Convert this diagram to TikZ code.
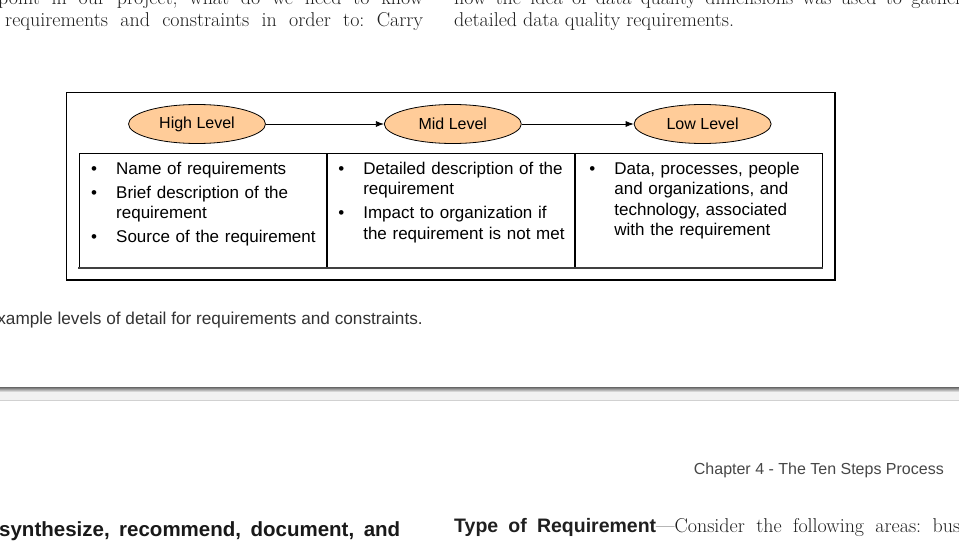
\documentclass[tikz,border=0pt]{standalone}
\usepackage{fontspec}
\usepackage{xcolor}
\usepackage{tikz}
\usetikzlibrary{shapes.geometric, arrows.meta, positioning}
\newfontfamily\arialfont{Liberation Sans}
\definecolor{levelfill}{RGB}{255,204,153}
\newcommand{\itm}[1]{\hangindent=25pt\hangafter=1\noindent\makebox[25pt][l]{\textbullet}#1\par\vspace{3.5pt}}
\frenchspacing

\begin{document}
\begin{tikzpicture}[
    x=1pt, y=-1pt,
    >=Latex,
    level/.style={ellipse, draw, fill=levelfill, line width=0.8pt, minimum width=137pt, minimum height=39pt, inner sep=0pt, font=\arialfont\fontsize{16}{19}\selectfont},
    cell/.style={rectangle, draw, line width=1.1pt, minimum width=247pt, minimum height=114.5pt, anchor=north west, inner sep=0pt},
    items/.style={text width=229pt, align=left, inner sep=0pt, anchor=base west, font=\arialfont\fontsize{17}{20.5}\selectfont},
    body/.style={inner sep=0pt, anchor=base west, font=\fontsize{20}{22}\selectfont, text=black!88},
    sans/.style={inner sep=0pt, font=\arialfont\fontsize{17.2}{20}\selectfont, text=black!80},
]
    \path[use as bounding box] (0,0) rectangle (959,543);
    \clip (0,0) rectangle (959,543);
    \fill[white] (0,0) rectangle (959,543);

    % Page text above the figure
    \node[body] (lineA) at (-2,5) {\makebox[425pt][s]{point in our project, what do we need to know}};
    \node[body] (lineB) at (5,27) {\makebox[418pt][s]{requirements and constraints in order to: Carry}};
    \node[body] (lineC) at (454,5) {\makebox[508pt][s]{how the idea of data quality dimensions was used to gather}};
    \node[body] (lineD) at (454,27) {detailed data quality requirements.};

    % Figure frame
    \draw[line width=1.1pt] (66.5,92.5) rectangle (835,280);

    % Levels row
    \node[level] (high) at (197,124) {High Level};
    \node[level, right=118pt of high] (mid) {Mid Level};
    \node[level, right=112pt of mid] (low) {Low Level};

    \foreach \a/\b in {high/mid, mid/low}
        \draw[-{Latex[length=8pt,width=6pt]}, line width=0.8pt] (\a) -- (\b);

    % Detail row
    \node[cell] (hcell) at (79,152.5) {};
    \node[cell] (mcell) at (hcell.north east) {};
    \node[cell] (lcell) at (mcell.north east) {};
    \draw[line width=1.8pt, black!75] ([xshift=-1pt]hcell.south west) -- (lcell.south east);

    \node[items] (hlist) at ([shift={(12pt,-21.5pt)}]hcell.north west)
        {\itm{Name of requirements}\itm{Brief description of the requirement}\itm{Source of the requirement}};
    \node[items] (mlist) at ([shift={(11pt,-21.5pt)}]mcell.north west)
        {\itm{Detailed description of the requirement}\itm{Impact to organization if the requirement is not met}};
    \node[items] (llist) at ([shift={(14pt,-21.5pt)}]lcell.north west)
        {\itm{Data, processes, people and organizations, and technology, associated with the requirement}};

    % Caption
    \node[sans, anchor=base east] (caption) at (423,324) {Example levels of detail for requirements and constraints.};

    % Page break
    \fill[black!5] (0,388) rectangle (959,400);
    \shade[top color=black!60, bottom color=black!5] (0,387) rectangle (959,392);
    \draw[black!18] (0,400.5) -- (959,400.5);

    % Next page
    \node[sans, anchor=base east, font=\arialfont\fontsize{16}{19}\selectfont, text=black!72] (chapter) at (944,474) {Chapter 4 - The Ten Steps Process};
    \node[body, font=\arialfont\bfseries\fontsize{20.5}{24}\selectfont, text=black!90] (lineE) at (-1,536) {\makebox[401pt][s]{synthesize, recommend, document, and}};
    \node[body] (lineF) at (454,532) {\makebox[506pt][s]{{\arialfont\bfseries\fontsize{19.5}{24}\selectfont Type of Requirement}---Consider the following areas: bus}};
\end{tikzpicture}
\end{document}
